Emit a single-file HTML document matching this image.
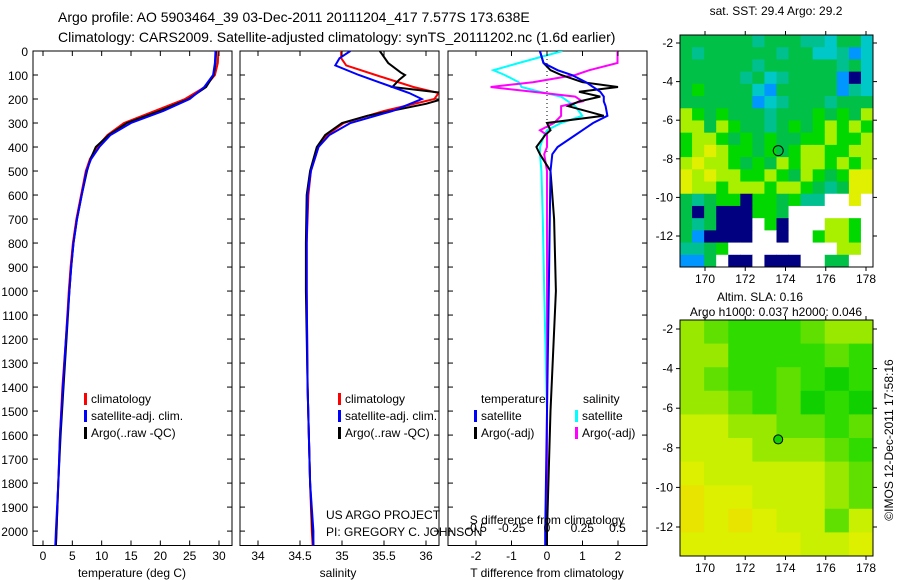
<!DOCTYPE html>
<html><head><meta charset="utf-8">
<style>
html,body{margin:0;padding:0;background:#fff;}
svg{display:block;font-family:"Liberation Sans",sans-serif;}
</style></head>
<body>
<svg id="fig" width="900" height="580" viewBox="0 0 900 580" xmlns="http://www.w3.org/2000/svg">
<text x="58" y="22" font-size="14">Argo profile: AO 5903464_39 03-Dec-2011 20111204_417 7.577S 173.638E</text>
<text x="58" y="42" font-size="14">Climatology: CARS2009. Satellite-adjusted climatology: synTS_20111202.nc (1.6d earlier)</text>
<g id="plots"></g>
</svg>
<script>
// ---- data ----
const tDepth = [0,50,100,150,200,250,300,350,400,450,500,600,700,800,900,1000,1200,1400,1600,1800,2000,2060];
const tClim  = [29.9,29.8,29.3,27.6,24.2,19.0,13.8,11.0,9.2,8.0,7.3,6.5,5.7,5.1,4.7,4.4,3.9,3.3,2.9,2.6,2.3,2.2];
const tSat   = [29.4,29.3,29.0,27.5,25.0,20.5,15.0,11.5,9.6,8.2,7.4,6.6,5.8,5.2,4.8,4.5,3.9,3.4,2.9,2.6,2.2,2.1];
const tArgo  = [29.5,29.4,29.1,27.8,24.8,19.8,14.3,11.2,9.0,8.1,7.5,6.6,5.8,5.2,4.8,4.5,4.0,3.5,3.0,2.6,2.3,2.2];

const sDepth = [0,30,60,100,150,175,200,250,300,350,400,500,600,800,1000,1400,1800,2000,2060];
const sClim  = [34.99,34.99,35.05,35.40,35.85,36.15,36.10,35.50,35.02,34.82,34.72,34.63,34.60,34.58,34.58,34.59,34.62,34.64,34.65];
const sSat   = [35.10,34.97,34.92,35.20,35.60,35.80,35.95,35.60,35.10,34.85,34.72,34.63,34.59,34.58,34.58,34.59,34.62,34.66,34.66];
const aDepth = [0,50,90,100,120,150,175,200,220,270,300,350,400,500,600,800,1000,1400,1800,2000,2060];
const sArgo  = [35.45,35.55,35.70,35.75,35.68,35.60,36.20,36.20,36.00,35.30,35.00,34.80,34.70,34.62,34.58,34.57,34.57,34.59,34.62,34.65,34.66];

const dDepth = [0,50,80,100,130,150,170,190,210,230,270,300,330,350,400,430,500,700,1000,1500,2000,2060];
const dtSat  = [-0.2,-0.1,0.3,0.7,1.1,1.3,1.5,1.6,1.6,1.65,1.7,1.3,1.0,0.8,0.3,0.15,0.1,0.08,0.05,0.0,-0.05,-0.05];
const dtArgo = [-0.2,-0.1,0.1,0.4,1.0,2.0,0.9,1.5,0.9,0.6,1.6,0.0,0.1,-0.05,-0.3,-0.2,0.1,0.2,0.25,0.1,0.0,0.0];
const dsSat  = [0.11,-0.2,-0.38,-0.3,-0.2,-0.18,-0.05,0.1,0.15,0.2,0.25,0.1,0.0,-0.02,-0.05,-0.05,-0.04,-0.03,-0.02,0.0,0.0,0.0];
const dsArgo = [0.5,0.5,0.3,0.2,-0.1,-0.4,-0.1,0.2,0.25,0.1,0.1,0.05,-0.05,0.0,0.0,-0.02,0.0,0.0,0.0,0.0,0.0,0.0];

const depthTicks = [0,100,200,300,400,500,600,700,800,900,1000,1100,1200,1300,1400,1500,1600,1700,1800,1900,2000];
const tTicks = [0,5,10,15,20,25,30];
const sTicks = [34,34.5,35,35.5,36];
const sTickLabels = ["34","34.5","35","35.5","36"];
const dtTicks = [-2,-1,0,1,2];
const dsTicks = [-0.5,-0.25,0,0.25,0.5];
const dsTickLabels = ["-0.5","-0.25","0","0.25","0.5"];

// map grids (coarse colour codes)
const sstRows = [
"ggggggtgggttcggc","gtggggggtggcctbc","ggggggtggggggtgc","gggggtgctggggbnc",
"gGggggcbgggggbtc","ggggggbctgggtggg","yGgGgggtgggGgGgy","yygyGggtgGgGyGyG",
"GyyGgGgGggGGyGGy","GyYyGGgGgGyyGGyy","yYyyGgGgyGyyGyGy","YyYyyGGyGgyGgGYY",
"YyyGyyyGyyGgtgYY","gtgGGnGGgGttwwYw","gngnnnGGgwwwwwww","gtgnnnwGnwwwyyGw",
"gbnnnnwwnwwGyyGw","ttgGwwwwwwwwwyyw","bbgwnnwnnnwwggww"];
const slaRows = ["lmgggmll","llggggmg","lmggmgGg","llmgmGgG","aallmmgm","aaalllmg","yaaaaalm","oyyaaalm","oyoyaama","yyyyyaay"];
const mapTicksX = [170,172,174,176,178];
const mapTicksY = [-2,-4,-6,-8,-10,-12];
const argoLon = 173.638, argoLat = -7.577;

// ---- helpers ----
const NS="http://www.w3.org/2000/svg";
const root=document.getElementById('plots');
function mk(tag,attrs,parent){const e=document.createElementNS(NS,tag);for(const k in attrs)e.setAttribute(k,attrs[k]);(parent||root).appendChild(e);return e;}
const top0=51, bot0=545.5, dmax=2060;
const yD = d => top0 + d*(bot0-top0)/dmax;
function lin(d0,d1,r0,r1){return v=>r0+(v-d0)*(r1-r0)/(d1-d0);}

function panel(name,x0,x1){
  const g=mk('g',{});
  
  
  const cid='clip-'+name;
  const cp=mk('clipPath',{id:cid},g);mk('rect',{x:x0,y:top0,width:x1-x0,height:bot0-top0},cp);
  const fr=mk('rect',{x:x0,y:top0,width:x1-x0,height:bot0-top0,fill:'none',stroke:'#000','stroke-width':1},g);
  
  
  depthTicks.forEach(d=>{mk('line',{x1:x0,x2:x0+5,y1:yD(d),y2:yD(d),stroke:'#000'},g);mk('line',{x1:x1,x2:x1-5,y1:yD(d),y2:yD(d),stroke:'#000'},g);});
  return {g,cid};
}
function line(p,xs,ds,sx,color,w,name){
  const pts=xs.map((v,i)=>sx(v).toFixed(1)+','+yD(ds[i]).toFixed(1)).join(' ');
  const e=mk('polyline',{points:pts,fill:'none',stroke:color,'stroke-width':w,'clip-path':'url(#'+p.cid+')'},p.g);
  
  
}
function xticks(p,ticks,labels,sx,y,name){
  ticks.forEach((t,i)=>{
    mk('line',{x1:sx(t),x2:sx(t),y1:bot0,y2:bot0-5,stroke:'#000'},p.g);
    mk('line',{x1:sx(t),x2:sx(t),y1:top0,y2:top0+5,stroke:'#000'},p.g);
    const tx=mk('text',{x:sx(t),y:y,'font-size':12,'text-anchor':'middle'},p.g);
    tx.textContent=labels?labels[i]:String(t);
    
    
  });
}
function txt(x,y,s,size,name,anchor,parent){
  const t=mk('text',{x:x,y:y,'font-size':size,'text-anchor':anchor||'start'},parent);
  t.textContent=s;
  
  
  return t;
}
function legendEntry(x,y,color,label,parent){
  const r=mk('rect',{x:x,y:y-10,width:3,height:12,fill:color},parent);
  
  
  txt(x+7,y,label,12,'legend-entry','start',parent);
}

// depth labels
depthTicks.forEach(d=>{const t=txt(28,yD(d)+5,String(d),12,'y-tick-label','end');});

// panel 1 temperature
const p1=panel('temperature-panel',33,232);
const sxT=lin(0,30,43,219);
line(p1,tClim,tDepth,sxT,'#ff0000',2,'temp-climatology-line');
line(p1,tArgo,tDepth,sxT,'#000000',2,'temp-argo-line');
line(p1,tSat,tDepth,sxT,'#0000ff',2,'temp-satellite-line');
xticks(p1,tTicks,null,sxT,560,'temp-x');
txt(132,577,'temperature (deg C)',12,'temp-x-axis-title','middle',p1.g);
legendEntry(84,403,'#ff0000','climatology',p1.g);
legendEntry(84,420,'#0000ff','satellite-adj. clim.',p1.g);
legendEntry(84,437,'#000000','Argo(..raw -QC)',p1.g);

// panel 2 salinity
const p2=panel('salinity-panel',240,439);
const sxS=lin(34,36,258,426);
line(p2,sClim,sDepth,sxS,'#ff0000',2,'sal-climatology-line');
line(p2,sArgo,aDepth,sxS,'#000000',2,'sal-argo-line');
line(p2,sSat,sDepth,sxS,'#0000ff',2,'sal-satellite-line');
xticks(p2,sTicks,sTickLabels,sxS,560,'sal-x');
txt(338,577,'salinity',12,'sal-x-axis-title','middle',p2.g);
legendEntry(338,403,'#ff0000','climatology',p2.g);
legendEntry(338,420,'#0000ff','satellite-adj. clim.',p2.g);
legendEntry(338,437,'#000000','Argo(..raw -QC)',p2.g);
txt(326,519,'US ARGO PROJECT',12,'credit-project','start',p2.g);
txt(326,536,'PI: GREGORY C. JOHNSON',12,'credit-pi','start',p2.g);

// panel 3 differences
const p3=panel('difference-panel',448,647);
const sxDT=lin(0,2,547,618);
const sxDS=lin(0,0.5,547,617.5);
const zl=mk('line',{x1:547,x2:547,y1:top0,y2:yD(420),stroke:'#000','stroke-dasharray':'1,3'},p3.g);


line(p3,dsSat,dDepth,sxDS,'#00ffff',2,'sdiff-satellite-line');
line(p3,dsArgo,dDepth,sxDS,'#ff00ff',2,'sdiff-argo-line');
line(p3,dtArgo,dDepth,sxDT,'#000000',2,'tdiff-argo-line');
line(p3,dtSat,dDepth,sxDT,'#0000ff',2,'tdiff-satellite-line');
xticks(p3,dtTicks,null,sxDT,560,'tdiff-x');
dsTicks.forEach((t,i)=>{txt(sxDS(t),532,dsTickLabels[i],12,'sdiff-x-tick-label','middle',p3.g);});
txt(547,524,'S difference from climatology',12,'sdiff-axis-title','middle',p3.g);
txt(547,577,'T difference from climatology',12,'tdiff-x-axis-title','middle',p3.g);
txt(481,403,'temperature',12,'legend-title-temperature','start',p3.g);
txt(583,403,'salinity',12,'legend-title-salinity','start',p3.g);
legendEntry(474,420,'#0000ff','satellite',p3.g);
legendEntry(474,437,'#000000','Argo(-adj)',p3.g);
legendEntry(575,420,'#00ffff','satellite',p3.g);
legendEntry(575,437,'#ff00ff','Argo(-adj)',p3.g);

// maps
const sstCol={g:'#00c048',G:'#00d800',t:'#00c090',c:'#00c8c8',b:'#0096ff',y:'#a8f000',Y:'#e0f000',n:'#000080',w:'#ffffff'};
const slaCol={l:'#98e800',m:'#60e000',g:'#30dc00',G:'#10d000',a:'#c8f000',y:'#dcf000',o:'#e8e400'};
function map(name,x0,y0,x1,y1,yAt2,yAt12,rows,cols,title){
  const g=mk('g',{});
  
  
  const sx=lin(170,178,705,866), sy=lin(-2,-12,yAt2,yAt12);
  const nr=rows.length,nc=rows[0].length,cw=(x1-x0)/nc,ch=(y1-y0)/nr;
  rows.forEach((r,i)=>{for(let j=0;j<nc;j++){
    const c=mk('rect',{x:(x0+j*cw).toFixed(2),y:(y0+i*ch).toFixed(2),width:(cw+0.5).toFixed(2),height:(ch+0.5).toFixed(2),fill:cols[r[j]]},g);
    
    
  }});
  mk('rect',{x:x0,y:y0,width:x1-x0,height:y1-y0,fill:'none',stroke:'#000'},g);
  mapTicksX.forEach(v=>{mk('line',{x1:sx(v),x2:sx(v),y1:y1,y2:y1+4,stroke:'#000'},g);mk('line',{x1:sx(v),x2:sx(v),y1:y0,y2:y0-4,stroke:'#000'},g);txt(sx(v),y1+16,String(v),12,name+'-lon-label','middle',g);});
  mapTicksY.forEach(v=>{mk('line',{x1:x0,x2:x0-4,y1:sy(v),y2:sy(v),stroke:'#000'},g);mk('line',{x1:x1,x2:x1+4,y1:sy(v),y2:sy(v),stroke:'#000'},g);txt(x0-7,sy(v)+4,String(v),12,name+'-lat-label','end',g);});
  return {g,sx,sy};
}
const m1=map('sst-map',680,35,873,267,43,236,sstRows,sstCol);
txt(776,15,'sat. SST: 29.4 Argo: 29.2',12,'sst-map-title','middle');
const c1=mk('circle',{cx:m1.sx(argoLon),cy:m1.sy(argoLat),r:5,fill:'none',stroke:'#000'},m1.g);


const m2=map('sla-map',680,320,873,556,329,527,slaRows,slaCol);
txt(760,301,'Altim. SLA: 0.16',12,'sla-map-title','middle');
txt(776,316,'Argo h1000: 0.037 h2000: 0.046',12,'sla-map-subtitle','middle');
const c2=mk('circle',{cx:m2.sx(argoLon),cy:m2.sy(argoLat),r:4.5,fill:'#10d000',stroke:'#000'},m2.g);


const cr=txt(0,0,'©IMOS 12-Dec-2011 17:58:16',12,'copyright-timestamp','middle');
cr.setAttribute('transform','translate(893,440) rotate(-90)');
</script>
</body></html>
